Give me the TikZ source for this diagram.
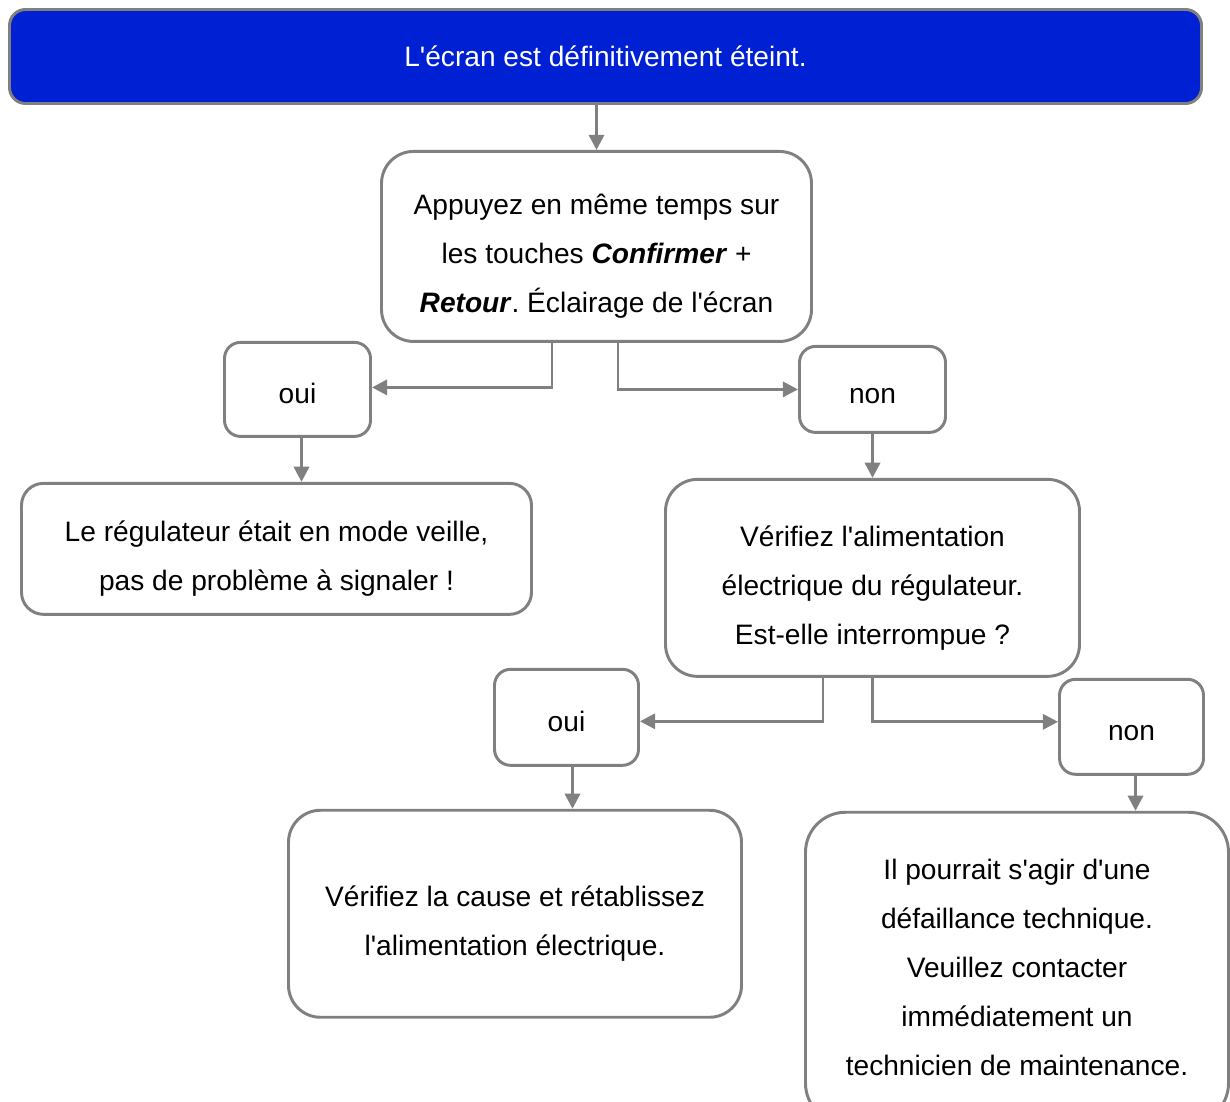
\documentclass[tikz,border=0pt]{standalone}
\usepackage{fontspec}
\setmainfont{Liberation Sans}
\usetikzlibrary{positioning,arrows.meta}
\definecolor{screenblue}{HTML}{0020D4}
\definecolor{linegray}{HTML}{808080}
\newcommand{\apos}{\textquotesingle}
\newcommand{\topstrut}{\rule{0pt}{29pt}}
\newcommand{\midstrut}{\rule[-3pt]{0pt}{26pt}}
\tikzstyle{arrow} = [line width=2.1pt,draw=linegray,-{Triangle[length=0.38cm,width=0.38cm]}]
\tikzstyle{stepbox} = [draw=linegray, line width=2.1pt, fill=white, align=center, font=\fontsize{20}{34.9}\selectfont\frenchspacing]
\tikzstyle{answer} = [stepbox, rounded corners=0.4cm, execute at begin node=\midstrut]

\begin{document}
\begin{tikzpicture}
  \path[use as bounding box, clip] (0,0) rectangle (30.75,-27.55);
  \node[stepbox, fill=screenblue, text=white, rounded corners=0.4cm, minimum width=29.8cm, minimum height=2.35cm] (off) at (15.1375,-1.4125) {L\apos écran est définitivement éteint.};
  \node[stepbox, rounded corners=0.8cm, minimum width=10.75cm, minimum height=4.75cm, below=1.125cm of off, xshift=-0.225cm] (press) {\topstrut Appuyez en même temps sur\\les touches \textbf{\textit{Confirmer}} +\\\textbf{\textit{Retour}}. Éclairage de l\apos écran};
  \node[answer, minimum width=3.65cm, minimum height=2.35cm, below=-0.05cm of press, xshift=-7.475cm] (yes1) {oui};
  \node[answer, minimum width=3.65cm, minimum height=2.15cm, below=0.05cm of press, xshift=6.9cm] (no1) {non};
  \node[stepbox, rounded corners=0.55cm, minimum width=12.75cm, minimum height=3.275cm, below=1.1cm of yes1, xshift=-0.525cm] (standby) {\topstrut Le régulateur était en mode veille,\\pas de problème à signaler !};
  \node[stepbox, rounded corners=0.8cm, minimum width=10.35cm, minimum height=4.925cm, below=1.1cm of no1] (power) {\topstrut Vérifiez l\apos alimentation\\électrique du régulateur.\\Est-elle interrompue ?};
  \node[answer, minimum width=3.6cm, minimum height=2.4cm, below=-0.25cm of power, xshift=-7.65cm] (yes2) {oui};
  \node[answer, minimum width=3.6cm, minimum height=2.375cm, below=0cm of power, xshift=6.475cm] (no2) {non};
  \node[stepbox, rounded corners=0.8cm, minimum width=11.325cm, minimum height=5.175cm, below=1.05cm of yes2, xshift=-1.2875cm] (restore) {\topstrut Vérifiez la cause et rétablissez\\l\apos alimentation électrique.};
  \node[stepbox, rounded corners=1cm, minimum width=10.575cm, minimum height=7.775cm, below=0.875cm of no2, xshift=-2.8625cm] (tech) {Il pourrait s\apos agir d\apos une\\défaillance technique.\\Veuillez contacter\\immédiatement un\\technicien de maintenance.};
  \draw[arrow] (press.north |- off.south) -- (press.north);
  \draw[arrow] ([xshift=-1.1125cm]press.south) |- ([yshift=0.05cm]yes1.east);
  \draw[arrow] ([xshift=0.5375cm]press.south) |- (no1.west);
  \draw[arrow] ([xshift=0.1cm]yes1.south) -- ([xshift=0.1cm]yes1.south |- standby.north);
  \draw[arrow] (no1) -- (power);
  \draw[arrow] ([xshift=-1.2375cm]power.south) |- ([yshift=-0.1cm]yes2.east);
  \draw[arrow] (power.south) |- ([yshift=0.125cm]no2.west);
  \draw[arrow] ([xshift=0.15cm]yes2.south) -- ([xshift=0.15cm]yes2.south |- restore.north);
  \draw[arrow] ([xshift=0.1cm]no2.south) -- ([xshift=0.1cm]no2.south |- tech.north);
\end{tikzpicture}
\end{document}
